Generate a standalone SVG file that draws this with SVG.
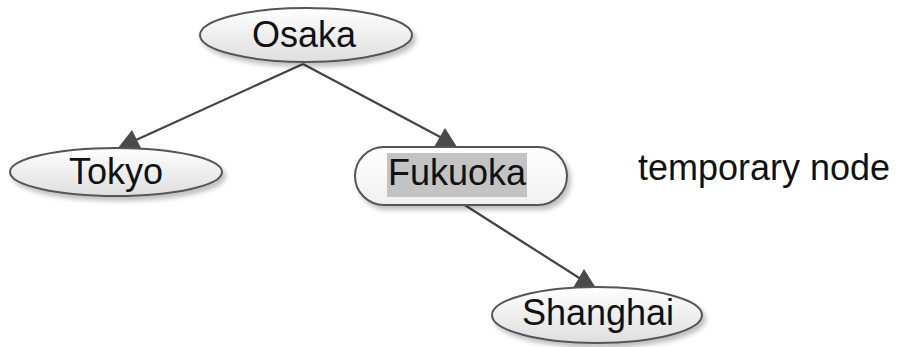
<svg xmlns="http://www.w3.org/2000/svg" width="898" height="347" viewBox="0 0 898 347">
  <defs>
    <linearGradient id="nodeFill" x1="0" y1="0" x2="0" y2="1">
      <stop offset="0" stop-color="#ffffff"/>
      <stop offset="1" stop-color="#dedede"/>
    </linearGradient>
    <linearGradient id="boxFill" x1="0" y1="0" x2="0" y2="1">
      <stop offset="0" stop-color="#ffffff"/>
      <stop offset="1" stop-color="#f0f0f0"/>
    </linearGradient>
    <filter id="shadow" x="-20%" y="-30%" width="140%" height="170%">
      <feGaussianBlur in="SourceAlpha" stdDeviation="2.5"/>
      <feOffset dx="3" dy="4" result="b"/>
      <feComponentTransfer><feFuncA type="linear" slope="0.25"/></feComponentTransfer>
      <feMerge><feMergeNode/><feMergeNode in="SourceGraphic"/></feMerge>
    </filter>
  </defs>
  <style>
    .node { fill: url(#nodeFill); stroke: #555555; stroke-width: 2; filter: url(#shadow); }
    .box { fill: url(#boxFill); stroke: #555555; stroke-width: 2; filter: url(#shadow); }
    .label { font-family: "Liberation Sans", Arial, sans-serif; font-size: 36px; fill: #111111; text-anchor: middle; }
    .edge { stroke: #444444; stroke-width: 2.2; fill: none; }
    .head { fill: #4a4a4a; }
  </style>

  <g id="edges">
    <line class="edge" x1="303" y1="64" x2="136" y2="140"/>
    <polygon class="head" points="132,130 118,148 141,148"/>
    <line class="edge" x1="303" y1="64" x2="444" y2="139"/>
    <polygon class="head" points="445,128 434,147 457,147"/>
    <line class="edge" x1="460" y1="202" x2="584" y2="281"/>
    <polygon class="head" points="584,269 573,288 596,288"/>
  </g>

  <g id="osaka">
    <ellipse class="node" cx="306" cy="35" rx="106" ry="27"/>
    <text class="label" x="304" y="47">Osaka</text>
  </g>

  <g id="tokyo">
    <ellipse class="node" cx="116" cy="172" rx="106" ry="24"/>
    <text class="label" x="116" y="184">Tokyo</text>
  </g>

  <g id="fukuoka">
    <rect class="box" x="355" y="147" width="212" height="58" rx="29" ry="29"/>
    <rect x="387" y="153" width="140" height="44" fill="#c3c3c3"/>
    <text class="label" x="457" y="185">Fukuoka</text>
  </g>

  <g id="shanghai">
    <ellipse class="node" cx="597" cy="315" rx="105" ry="28"/>
    <text class="label" x="598" y="325">Shanghai</text>
  </g>

  <g id="temporary-node">
    <text class="label" x="638" y="180" style="text-anchor: start">temporary node</text>
  </g>
</svg>
